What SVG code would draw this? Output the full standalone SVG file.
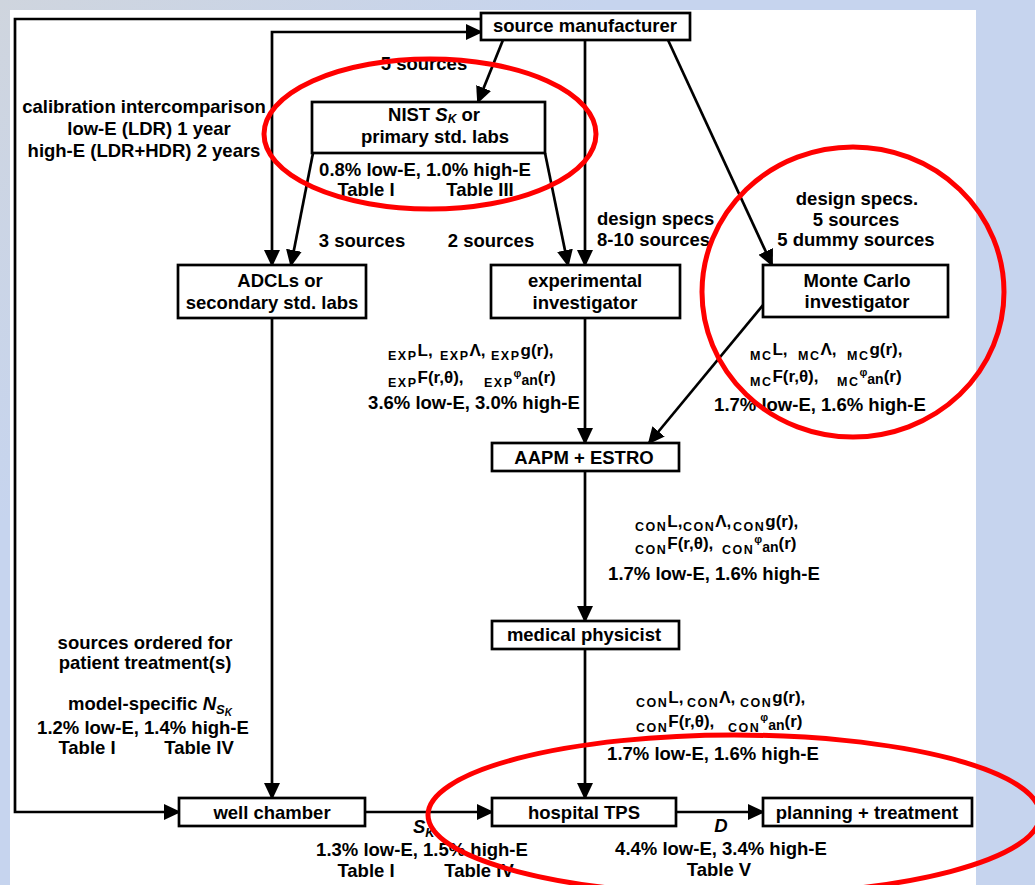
<svg xmlns="http://www.w3.org/2000/svg" width="1035" height="885" viewBox="0 0 1035 885">
<defs>
<style>
.t{font-family:"Liberation Sans",Arial,Helvetica,sans-serif;font-weight:bold;font-size:18.5px;fill:#000}
.c{text-anchor:middle}
.f{font-size:17px}
.s{font-size:12.5px;letter-spacing:1.5px}
.ph{font-size:11px}
.an{font-size:14px}
.i{font-style:italic}
.box{fill:#fff;stroke:#000;stroke-width:2.7}
.ln{fill:none;stroke:#000;stroke-width:2.7}
.ell{fill:none;stroke:#f00;stroke-width:5}
</style>
<linearGradient id="bg" gradientUnits="userSpaceOnUse" x1="0" y1="0" x2="260" y2="300">
<stop offset="0" stop-color="#cfd5de"/>
<stop offset="1" stop-color="#c6d4ee"/>
</linearGradient>
<marker id="ah" markerUnits="userSpaceOnUse" markerWidth="17" markerHeight="16" refX="15" refY="8" orient="auto-start-reverse">
<path d="M0,0 L17,8 L0,16 Z" fill="#000"/>
</marker>
</defs>
<rect x="0" y="0" width="1035" height="885" fill="url(#bg)"/>
<rect x="10" y="10" width="966" height="875" fill="#fff"/>

<g id="connectors">
<path class="ln" d="M481,19 H15 V812 H179" marker-end="url(#ah)"/>
<path class="ln" d="M272,265 V32 H481" marker-start="url(#ah)" marker-end="url(#ah)"/>
<path class="ln" d="M503,40 L478,102" marker-end="url(#ah)"/>
<path class="ln" d="M585,40 V265" marker-end="url(#ah)"/>
<path class="ln" d="M668,40 L772,265" marker-end="url(#ah)"/>
<path class="ln" d="M313,153 L291,265" marker-end="url(#ah)"/>
<path class="ln" d="M545,153 L568,265" marker-end="url(#ah)"/>
<path class="ln" d="M763,305 L649,443" marker-end="url(#ah)"/>
<path class="ln" d="M585,318 V443" marker-end="url(#ah)"/>
<path class="ln" d="M585,471 V621" marker-end="url(#ah)"/>
<path class="ln" d="M585,649 V798" marker-end="url(#ah)"/>
<path class="ln" d="M272,318 V798" marker-end="url(#ah)"/>
<path class="ln" d="M365,812 H492" marker-end="url(#ah)"/>
<path class="ln" d="M676,812 H763" marker-end="url(#ah)"/>
</g>

<g id="source-manufacturer">
<rect class="box" x="481" y="13" width="209" height="27"/>
<text class="t c" x="585" y="32">source manufacturer</text>
</g>

<g id="nist">
<rect class="box" x="312" y="102" width="233" height="51"/>
<text class="t c" x="434" y="121">NIST <tspan class="i">S</tspan><tspan class="i" font-size="12" dy="2">K</tspan><tspan dy="-2"> or</tspan></text>
<text class="t c" x="435" y="142.5">primary std. labs</text>
</g>

<g id="adcl">
<rect class="box" x="178" y="265" width="188" height="53"/>
<text class="t c" x="280" y="287">ADCLs or</text>
<text class="t c" x="272" y="309">secondary std. labs</text>
</g>

<g id="experimental">
<rect class="box" x="491" y="265" width="189" height="53"/>
<text class="t c" x="585" y="287">experimental</text>
<text class="t c" x="585" y="309">investigator</text>
</g>

<g id="monte-carlo">
<rect class="box" x="763" y="265" width="185" height="52"/>
<text class="t c" x="857" y="287">Monte Carlo</text>
<text class="t c" x="857" y="308">investigator</text>
</g>

<g id="aapm-estro">
<rect class="box" x="492" y="443" width="187" height="28"/>
<text class="t c" x="584" y="464">AAPM + ESTRO</text>
</g>

<g id="medical-physicist">
<rect class="box" x="492" y="621" width="187" height="28"/>
<text class="t c" x="584" y="641">medical physicist</text>
</g>

<g id="well-chamber">
<rect class="box" x="179" y="798" width="186" height="28"/>
<text class="t c" x="272" y="819">well chamber</text>
</g>

<g id="hospital-tps">
<rect class="box" x="492" y="798" width="184" height="28"/>
<text class="t c" x="584" y="819">hospital TPS</text>
</g>

<g id="planning-treatment">
<rect class="box" x="763" y="798" width="209" height="28"/>
<text class="t c" x="867" y="819">planning + treatment</text>
</g>

<g id="labels">
<text class="t c" x="424" y="70">5 sources</text>
<text class="t c" x="144" y="113">calibration intercomparison</text>
<text class="t c" x="149" y="135">low-E (LDR) 1 year</text>
<text class="t c" x="144" y="157">high-E (LDR+HDR) 2 years</text>
<text class="t c" x="425" y="175.5">0.8% low-E, 1.0% high-E</text>
<text class="t c" x="366" y="196">Table I</text>
<text class="t c" x="480" y="196">Table III</text>
<text class="t c" x="362" y="247">3 sources</text>
<text class="t c" x="491" y="247">2 sources</text>
<text class="t" x="597" y="225">design specs</text>
<text class="t" x="597" y="246">8-10 sources</text>
<text class="t c" x="857" y="205">design specs.</text>
<text class="t c" x="856" y="226">5 sources</text>
<text class="t c" x="856" y="246">5 dummy sources</text>

<text class="t f" y="356"><tspan class="s" x="388" y="360">EXP</tspan><tspan y="356">L,</tspan><tspan class="s" x="440" y="360">EXP</tspan><tspan y="356">Λ,</tspan><tspan class="s" x="491" y="360">EXP</tspan><tspan y="356">g(r),</tspan></text>
<text class="t f" y="383"><tspan class="s" x="388" y="387">EXP</tspan><tspan y="383">F(r,θ),</tspan><tspan class="s" x="484" y="387">EXP</tspan><tspan class="ph" y="377">φ</tspan><tspan class="an" y="385">an</tspan><tspan y="383">(r)</tspan></text>
<text class="t c" x="474" y="409">3.6% low-E, 3.0% high-E</text>

<text class="t f" y="355"><tspan class="s" x="750" y="360">MC</tspan><tspan y="355">L,</tspan><tspan class="s" x="798" y="360">MC</tspan><tspan y="355">Λ,</tspan><tspan class="s" x="847" y="360">MC</tspan><tspan y="355">g(r),</tspan></text>
<text class="t f" y="382"><tspan class="s" x="750" y="386">MC</tspan><tspan y="382">F(r,θ),</tspan><tspan class="s" x="837" y="386">MC</tspan><tspan class="ph" y="376">φ</tspan><tspan class="an" y="384">an</tspan><tspan y="382">(r)</tspan></text>
<text class="t c" x="820" y="411">1.7% low-E, 1.6% high-E</text>

<text class="t f" y="527"><tspan class="s" x="635" y="531">CON</tspan><tspan y="527">L,</tspan><tspan class="s" x="683" y="531">CON</tspan><tspan y="527">Λ,</tspan><tspan class="s" x="733" y="531">CON</tspan><tspan y="527">g(r),</tspan></text>
<text class="t f" y="549"><tspan class="s" x="635" y="554">CON</tspan><tspan y="549">F(r,θ),</tspan><tspan class="s" x="722" y="554">CON</tspan><tspan class="ph" y="543">φ</tspan><tspan class="an" y="552">an</tspan><tspan y="549">(r)</tspan></text>
<text class="t c" x="714" y="580">1.7% low-E, 1.6% high-E</text>

<text class="t f" y="703"><tspan class="s" x="636" y="707">CON</tspan><tspan y="703">L,</tspan><tspan class="s" x="687" y="707">CON</tspan><tspan y="703">Λ,</tspan><tspan class="s" x="740" y="707">CON</tspan><tspan y="703">g(r),</tspan></text>
<text class="t f" y="727"><tspan class="s" x="636" y="732">CON</tspan><tspan y="727">F(r,θ),</tspan><tspan class="s" x="728" y="732">CON</tspan><tspan class="ph" y="721">φ</tspan><tspan class="an" y="730">an</tspan><tspan y="727">(r)</tspan></text>
<text class="t c" x="713" y="760">1.7% low-E, 1.6% high-E</text>

<text class="t c" x="145" y="649">sources ordered for</text>
<text class="t c" x="145" y="669">patient treatment(s)</text>
<text class="t c" x="150" y="710">model-specific <tspan class="i">N</tspan><tspan class="i" font-size="13" dy="4">S</tspan><tspan class="i" font-size="10" dy="2">K</tspan></text>
<text class="t c" x="143" y="734">1.2% low-E, 1.4% high-E</text>
<text class="t c" x="87" y="754">Table I</text>
<text class="t c" x="199" y="754">Table IV</text>

<text class="t i" x="413" y="833">S<tspan font-size="13" dy="4">K</tspan></text>
<text class="t c" x="422" y="856">1.3% low-E, 1.5% high-E</text>
<text class="t c" x="366" y="877">Table I</text>
<text class="t c" x="479" y="877">Table IV</text>
<text class="t c i" x="721" y="832">D</text>
<text class="t c" x="721" y="855">4.4% low-E, 3.4% high-E</text>
<text class="t c" x="719" y="876">Table V</text>
</g>

<g id="highlights">
<ellipse class="ell" cx="430" cy="134" rx="166" ry="75"/>
<ellipse class="ell" cx="853" cy="292" rx="151" ry="145"/>
<ellipse class="ell" cx="734" cy="815" rx="306" ry="80"/>
</g>
</svg>
